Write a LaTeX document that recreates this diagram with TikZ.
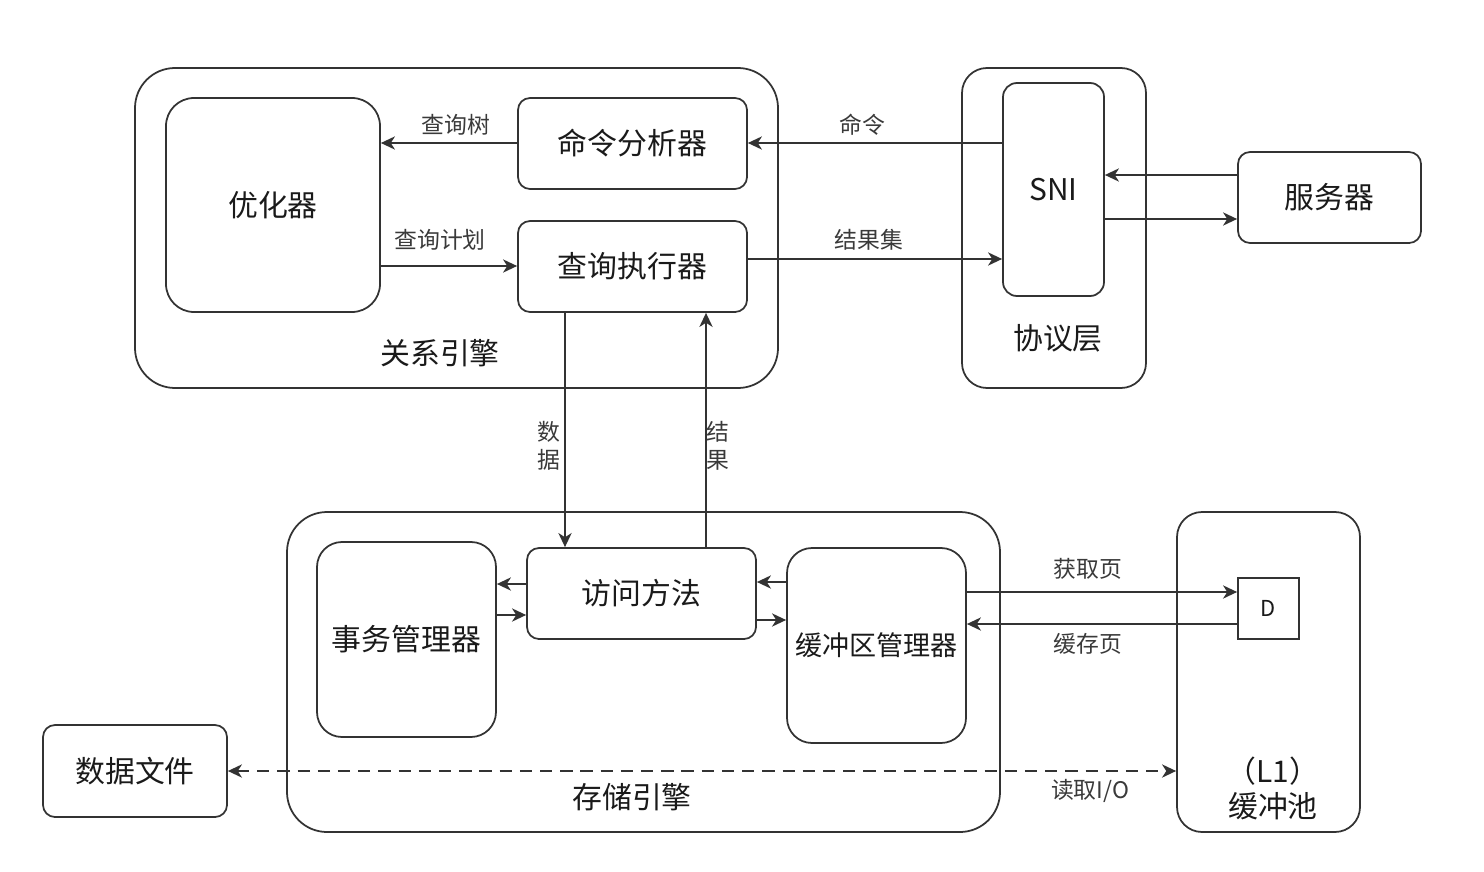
\documentclass[tikz,border=0pt]{standalone}
\usepackage{fontspec}
\setmainfont{Noto Sans CJK SC}
\usetikzlibrary{arrows.meta,fit}
\definecolor{lc}{HTML}{333333}
\definecolor{tc}{HTML}{1A1A1A}
\definecolor{lt}{HTML}{3A3A3A}
\tikzset{
  bx/.style={draw=lc, line width=1pt, inner sep=0pt, rounded corners=#1},
  big/.style={font=\fontsize{17}{20}\selectfont, text=tc, inner sep=0pt},
  mid/.style={font=\fontsize{15.4}{18}\selectfont, text=tc, inner sep=0pt},
  lbl/.style={font=\fontsize{13}{16}\selectfont, text=lt, inner sep=0pt, align=center},
  tip/.tip={Stealth[length=8pt,width=7.5pt,inset=2.4pt]},
  arr/.style={draw=lc, line width=1.25pt, -tip},
}
\begin{document}
\begin{tikzpicture}[x=0.02cm,y=-0.02cm]
\useasboundingbox (0,0) rectangle (1484,872);

% relation engine
\node[bx=0.8cm, fit={(135,68)(778,388)}] (rel) {};
\node[bx=0.56cm, fit={(166,98)(380,312)}, label={[big]center:优化器}] (opt) {};
\node[bx=0.24cm, fit={(518,98)(747,189)}, label={[big]center:命令分析器}] (cmd) {};
\node[bx=0.24cm, fit={(518,221)(747,312)}, label={[big]center:查询执行器}] (exe) {};
\node[big] (rellbl) at (440,353) {关系引擎};

% protocol layer
\node[bx=0.5cm, fit={(962,68)(1146,388)}] (proto) {};
\node[bx=0.28cm, fit={(1003,83)(1104,296)}, label={[big]center:SNI}] (sni) {};
\node[big] (protolbl) at (1058,338) {协议层};
\node[bx=0.24cm, fit={(1238,152)(1421,243)}, label={[big]center:服务器}] (srv) {};

% storage engine
\node[bx=0.8cm, fit={(287,512)(1000,832)}] (stor) {};
\node[big] (storlbl) at (632,797) {存储引擎};
\node[bx=0.5cm, fit={(317,542)(496,737)}, label={[big]center:事务管理器}] (tx) {};
\node[bx=0.24cm, fit={(527,548)(756,639)}, label={[big]center:访问方法}] (acc) {};
\node[bx=0.5cm, fit={(787,548)(966,743)}, label={[mid]center:缓冲区管理器}] (buf) {};

% buffer pool
\node[bx=0.5cm, fit={(1177,512)(1360,832)}] (pool) {};
\node[draw=lc, line width=1pt, inner sep=0pt, fit={(1238,578)(1299,639)}, label={[font=\fontsize{12.5}{14}\selectfont, text=tc, inner sep=0pt]center:D}] (D) {};
\node[big] (l1) at (1273,771) {（L1）};
\node[big] (poollbl) at (1273,806) {缓冲池};

% data file
\node[bx=0.24cm, fit={(43,725)(227,817)}, label={[big]center:数据文件}] (file) {};

% arrows upper
\draw[arr] (sni.west |- 0,143) -- (cmd.east |- 0,143);
\node[lbl] (lcmd) at (862,125) {命令};
\draw[arr] (exe.east |- 0,259) -- (sni.west |- 0,259);
\node[lbl] (lres) at (869,240) {结果集};
\draw[arr] (srv.west |- 0,175) -- (sni.east |- 0,175);
\draw[arr] (sni.east |- 0,219) -- (srv.west |- 0,219);
\draw[arr] (cmd.west |- 0,143) -- (opt.east |- 0,143);
\node[lbl] (ltree) at (456,125) {查询树};
\draw[arr] (opt.east |- 0,266) -- (exe.west |- 0,266);
\node[lbl] (lplan) at (440,240) {查询计划};

% vertical arrows
\draw[arr] (exe.south -| 565,0) -- (acc.north -| 565,0);
\node[lbl] (ldata) at (549,446) {数\\据};
\draw[arr] (acc.north -| 706,0) -- (exe.south -| 706,0);
\node[lbl] (lresult) at (718,446) {结\\果};

% storage arrows
\draw[arr] (acc.west |- 0,584) -- (tx.east |- 0,584);
\draw[arr] (tx.east |- 0,615) -- (acc.west |- 0,615);
\draw[arr] (buf.west |- 0,582) -- (acc.east |- 0,582);
\draw[arr] (acc.east |- 0,620) -- (buf.west |- 0,620);
\draw[arr] (buf.east |- 0,592) -- (D.west |- 0,592);
\node[lbl] (lget) at (1088,569) {获取页};
\draw[arr] (D.west |- 0,624) -- (buf.east |- 0,624);
\node[lbl] (lcache) at (1088,644) {缓存页};

% dashed I/O
\draw[arr, tip-tip, dash pattern=on 7pt off 4.5pt] (file.east) -- (pool.west |- file.east);
\node[lbl] (lio) at (1090,791) {读取I/O};
\end{tikzpicture}
\end{document}
